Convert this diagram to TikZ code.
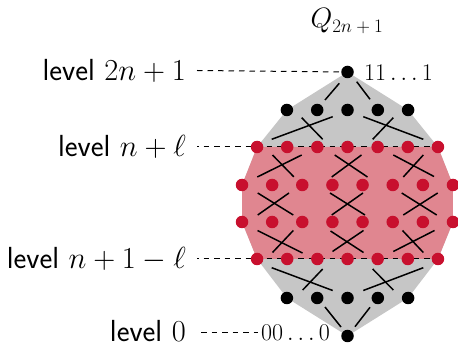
\documentclass[tikz,border=0pt]{standalone}
\usepackage{fix-cm}
\usepackage{fontspec}
\definecolor{dotred}{RGB}{200,16,46}
\definecolor{regred}{RGB}{224,134,144}
\definecolor{reggray}{RGB}{198,198,198}
\pgfdeclarelayer{bg}
\pgfdeclarelayer{mid}
\pgfsetlayers{bg,mid,main}
\begin{document}
\begin{tikzpicture}[x=1pt,y=-1pt,
  dotb/.style={circle,fill=black,inner sep=0pt,minimum size=12.5pt},
  dotr/.style={circle,fill=dotred,inner sep=0pt,minimum size=12.5pt},
  edg/.style={line width=1.5pt},
  lvl/.style={anchor=east,inner sep=0pt,font=\sffamily\fontsize{30.5}{33}\selectfont},
  nlab/.style={inner sep=0pt,font=\fontsize{24}{28}\selectfont},
  dashln/.style={line width=1pt,draw=black,dash pattern=on 5.5pt off 5pt}]
\useasboundingbox (0,0) rectangle (458,347);
% nodes
\node[dotb] (t) at (347.5,72) {};
\foreach \i in {1,...,5} \node[dotb] (a-\i) at ({347.5+30.3*(\i-3)},110) {};
\foreach \i in {1,...,7} \node[dotr] (r-\i) at ({347.5+30.15*(\i-4)},147) {};
\foreach \i in {1,...,8} \node[dotr] (m-\i) at ({347.5+30.14*(\i-4.5)},185) {};
\foreach \i in {1,...,8} \node[dotr] (n-\i) at ({347.5+30.14*(\i-4.5)},222) {};
\foreach \i in {1,...,7} \node[dotr] (s-\i) at ({347.5+30.15*(\i-4)},259) {};
\foreach \i in {1,...,5} \node[dotb] (c-\i) at ({347.5+30.3*(\i-3)},298) {};
\node[dotb] (z) at (347.5,336) {};
% labels
\node[lvl] (L1) at (186,70.5) {level $2n+1$};
\node[lvl] (L2) at (186,147) {level $n+\ell$};
\node[lvl] (L3) at (186,259) {level $n+1-\ell$};
\node[lvl] (L4) at (186,331.5) {level $0$};
\node[nlab,anchor=west] (T1) at (364,73) {$11\ldots1$};
\node[nlab,anchor=west,inner xsep=3pt] (T0) at (258,333) {$00\ldots0$};
\node[nlab,font=\fontsize{28}{30}\selectfont] (Q) at (347,21) {$Q_{\mbox{\fontsize{19}{20}\selectfont$2n+1$}}$};
% regions
\begin{pgfonlayer}{bg}
\fill[reggray] (t.center) -- (a-5.center) -- (r-7.center) -- (m-8.center) -- (n-8.center) -- (s-7.center) -- (c-5.center) -- (z.center) -- (c-1.center) -- (s-1.center) -- (n-1.center) -- (m-1.center) -- (r-1.center) -- (a-1.center) -- cycle;
\fill[regred] (r-1.center) -- (r-7.center) -- (m-8.center) -- (n-8.center) -- (s-7.center) -- (s-1.center) -- (n-1.center) -- (m-1.center) -- cycle;
\end{pgfonlayer}
\begin{pgfonlayer}{mid}
\draw[dashln] ([xshift=11pt]L1.east) -- (t);
\draw[dashln,dash phase=4pt] ([xshift=11pt]L2.east) -- (r-7.center);
\draw[dashln,dash phase=4pt] ([xshift=11pt]L3.east) -- (s-7.center);
\draw[dashln] ([xshift=15pt]L4.east|-T0.west) -- (T0);
% band 1
\draw[edg] (339.3,83.3) -- (325,100);
\draw[edg] (356.7,81.7) -- (370,99.3);
% band 2
\draw[edg] (271.7,139.3) -- (332.7,116.7);
\draw[edg] (301.7,117.7) -- (322.7,139.3);
\draw[edg] (363.3,116.7) -- (423.3,139.3);
\draw[edg] (393.3,117.7) -- (372.7,139.3);
% band 3
\draw[edg] (272.5,155) -- (293.8,176.8);
\draw[edg] (301.7,155) -- (257.3,177);
\draw[edg] (331.7,177) -- (361.5,155);
\draw[edg] (334.7,155) -- (367.5,177);
\draw[edg] (393.3,155) -- (434,176.5);
\draw[edg] (423.3,155) -- (403.3,177);
% band 4
\draw[edg] (257.7,193) -- (293.3,215);
\draw[edg] (289,193) -- (257.7,215);
\draw[edg] (330,193) -- (365,215);
\draw[edg] (363,193) -- (331.7,215);
\draw[edg] (401.7,193) -- (436.7,215);
\draw[edg] (437.7,193) -- (403.3,215);
% band 5
\draw[edg] (257.5,230.5) -- (302.5,253);
\draw[edg] (293.3,230.5) -- (272.5,252.5);
\draw[edg] (330.5,231) -- (363.5,252.5);
\draw[edg] (363.5,230.5) -- (332.5,251.5);
\draw[edg] (402.5,230.5) -- (423.3,252.5);
\draw[edg] (434.5,230.5) -- (393.3,251.5);
% band 6
\draw[edg] (271.7,267.7) -- (332.7,290.5);
\draw[edg] (322.7,269) -- (302.7,290);
\draw[edg] (423.3,267.7) -- (363.3,290.5);
\draw[edg] (372.7,269) -- (393.3,290);
% band 7
\draw[edg] (325,307) -- (341,327);
\draw[edg] (370,307.3) -- (355,326.7);
\end{pgfonlayer}
\end{tikzpicture}
\end{document}
